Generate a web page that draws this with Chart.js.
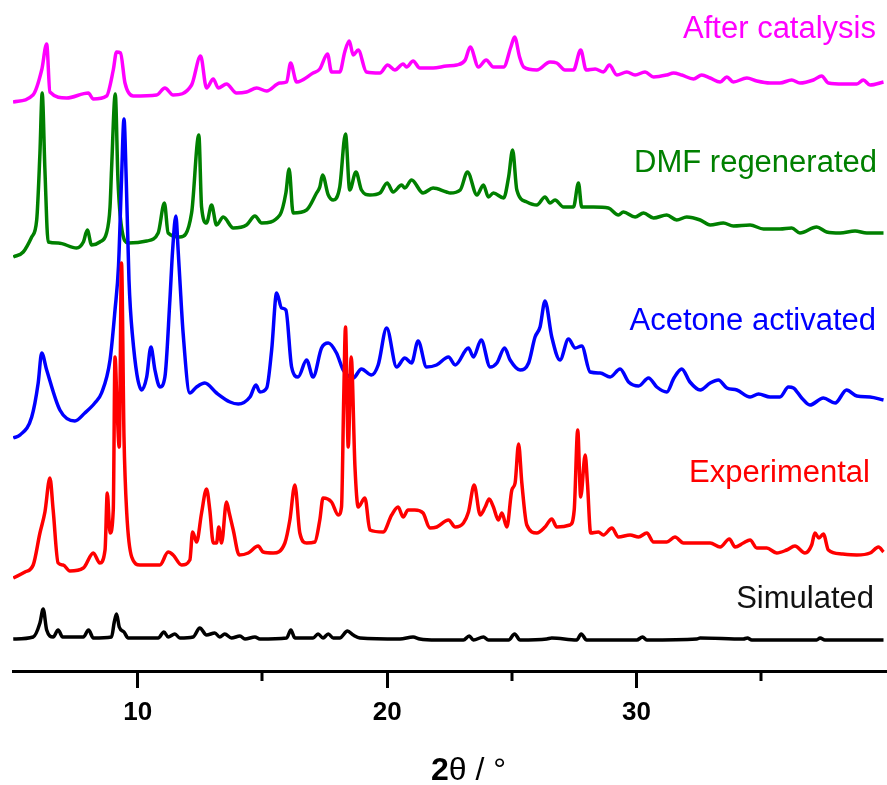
<!DOCTYPE html>
<html>
<head>
<meta charset="utf-8">
<script src="https://cdn.jsdelivr.net/npm/chart.js@4.4.1/dist/chart.umd.min.js"></script>
<style>
  html, body { margin: 0; padding: 0; background: #fff; }
  #wrap { width: 887px; height: 785px; }
</style>
</head>
<body>
<div id="wrap"><canvas id="xrd" width="887" height="785"></canvas></div>
<script>
// patrones de difracción: [2θ, intensidad con desplazamiento]
const simulated = [
  [5.01, 32], [5.81, 34], [6.08, 48], [6.21, 62], [6.35, 41], [6.61, 34], [6.81, 41], [6.99, 34],
  [7.82, 34], [8.03, 41], [8.22, 33], [8.95, 34], [9.06, 49], [9.15, 57], [9.26, 44], [9.45, 39],
  [9.62, 33], [10.82, 33], [11.05, 39], [11.22, 34], [11.49, 37], [11.69, 33], [12.22, 34], [12.49, 43],
  [12.76, 36], [13.09, 38], [13.29, 34], [13.49, 37], [13.76, 33], [14.10, 35], [14.30, 32], [14.70, 34],
  [14.90, 32], [15.97, 33], [16.14, 41], [16.30, 33], [17.03, 33], [17.23, 37], [17.43, 33], [17.64, 37],
  [17.84, 33], [18.10, 33], [18.41, 40], [18.64, 36], [18.91, 33], [20.51, 32], [21.04, 34], [21.31, 32],
  [21.99, 31], [23.06, 31], [23.29, 35], [23.46, 31], [23.86, 34], [24.06, 31], [24.87, 31], [25.11, 37],
  [25.33, 31], [26.40, 32], [26.60, 33], [27.60, 31], [27.78, 37], [28.00, 31], [30.01, 31], [30.24, 34],
  [30.41, 31], [32.41, 32], [32.55, 33], [34.28, 32], [34.44, 33], [34.62, 31], [37.22, 31], [37.36, 33],
  [37.55, 31], [39.90, 31]
];

const experimental = [
  [5.01, 93], [5.48, 99], [5.81, 106], [6.08, 138], [6.28, 159], [6.48, 193], [6.61, 161], [6.81, 108],
  [7.01, 106], [7.28, 100], [7.82, 103], [8.22, 118], [8.48, 108], [8.69, 121], [8.78, 178], [8.89, 138],
  [9.02, 161], [9.09, 314], [9.18, 258], [9.26, 224], [9.35, 408], [9.45, 234], [9.56, 158], [9.76, 114],
  [10.09, 106], [10.89, 106], [11.22, 119], [11.42, 116], [11.76, 106], [12.09, 111], [12.20, 139], [12.36, 129],
  [12.56, 158], [12.76, 182], [12.89, 161], [13.03, 128], [13.16, 128], [13.25, 144], [13.36, 128], [13.56, 169],
  [13.67, 158], [13.83, 141], [14.07, 116], [14.43, 118], [14.83, 125], [15.03, 119], [15.43, 118], [15.90, 128],
  [16.10, 151], [16.30, 186], [16.50, 138], [16.77, 128], [17.10, 129], [17.30, 151], [17.43, 173], [17.77, 169],
  [18.04, 156], [18.17, 164], [18.26, 274], [18.33, 344], [18.44, 224], [18.56, 314], [18.71, 204], [18.84, 164],
  [19.11, 173], [19.31, 141], [19.84, 139], [20.18, 156], [20.44, 164], [20.64, 154], [20.84, 161], [21.11, 161],
  [21.44, 158], [21.71, 143], [21.99, 144], [22.46, 151], [22.73, 144], [23.06, 148], [23.26, 159], [23.49, 186],
  [23.73, 156], [23.93, 164], [24.09, 172], [24.26, 164], [24.46, 151], [24.60, 158], [24.80, 144], [25.00, 181],
  [25.13, 188], [25.27, 227], [25.40, 188], [25.60, 146], [26.00, 138], [26.33, 144], [26.60, 152], [26.80, 144],
  [27.33, 146], [27.50, 161], [27.64, 241], [27.76, 174], [27.94, 216], [28.03, 188], [28.16, 138], [28.47, 139],
  [28.67, 136], [29.01, 143], [29.27, 134], [29.74, 136], [30.08, 134], [30.41, 138], [30.68, 129], [31.21, 129],
  [31.54, 134], [31.88, 128], [32.41, 128], [32.95, 128], [33.35, 124], [33.72, 132], [33.95, 124], [34.28, 128],
  [34.55, 131], [34.82, 123], [35.22, 123], [35.62, 118], [36.02, 121], [36.35, 125], [36.75, 118], [37.02, 126],
  [37.15, 138], [37.31, 133], [37.49, 137], [37.69, 121], [38.22, 117], [38.83, 116], [39.36, 118], [39.70, 124],
  [39.90, 119]
];

const acetoneActivated = [
  [5.01, 233], [5.28, 236], [5.75, 254], [6.01, 288], [6.15, 318], [6.35, 301], [6.88, 261], [7.48, 250],
  [7.88, 258], [8.28, 268], [8.55, 278], [8.89, 311], [9.09, 361], [9.23, 405], [9.35, 491], [9.45, 552],
  [9.54, 491], [9.65, 391], [9.78, 338], [10.16, 281], [10.36, 294], [10.53, 324], [10.69, 301], [10.89, 284],
  [11.09, 294], [11.29, 371], [11.40, 421], [11.53, 455], [11.62, 421], [11.69, 391], [11.82, 338], [12.09, 278],
  [12.36, 284], [12.69, 288], [13.16, 278], [13.70, 269], [14.03, 267], [14.50, 274], [14.74, 286], [14.90, 279],
  [15.17, 283], [15.37, 321], [15.57, 378], [15.77, 363], [15.94, 361], [16.17, 304], [16.43, 294], [16.77, 311],
  [17.03, 294], [17.37, 323], [17.64, 328], [17.97, 318], [18.24, 301], [18.64, 293], [18.97, 302], [19.37, 296],
  [19.64, 306], [19.98, 343], [20.38, 304], [20.71, 313], [20.98, 308], [21.24, 330], [21.58, 304], [21.98, 306],
  [22.46, 314], [22.73, 306], [23.26, 323], [23.46, 314], [23.77, 331], [24.13, 304], [24.40, 308], [24.71, 323],
  [24.93, 311], [25.33, 301], [25.67, 308], [25.93, 334], [26.13, 344], [26.33, 370], [26.60, 334], [26.93, 311],
  [27.27, 332], [27.54, 323], [27.80, 325], [28.14, 299], [28.54, 298], [28.94, 294], [29.34, 302], [29.68, 289],
  [30.08, 285], [30.48, 293], [30.81, 284], [31.21, 279], [31.50, 293], [31.81, 302], [32.14, 289], [32.55, 281],
  [32.95, 288], [33.28, 291], [33.62, 283], [34.02, 281], [34.55, 274], [34.89, 277], [35.35, 274], [35.75, 274],
  [36.09, 284], [36.29, 283], [36.62, 273], [36.95, 266], [37.49, 273], [37.96, 268], [38.42, 281], [38.83, 275],
  [39.36, 274], [39.90, 271]
];

const dmfRegenerated = [
  [5.01, 414], [5.41, 419], [5.75, 434], [5.95, 451], [6.08, 518], [6.17, 578], [6.28, 501], [6.41, 429],
  [6.81, 428], [7.55, 423], [7.82, 429], [7.98, 441], [8.15, 426], [8.48, 429], [8.75, 438], [8.89, 464],
  [8.95, 501], [9.10, 577], [9.21, 490], [9.35, 444], [9.62, 428], [10.36, 430], [10.82, 438], [11.07, 468],
  [11.22, 438], [11.69, 434], [12.16, 458], [12.45, 536], [12.56, 464], [12.76, 448], [12.96, 466], [13.16, 446],
  [13.43, 454], [13.83, 443], [14.36, 446], [14.70, 455], [14.97, 448], [15.70, 456], [15.94, 478], [16.07, 502],
  [16.23, 458], [16.77, 461], [17.17, 478], [17.30, 484], [17.41, 496], [17.64, 476], [17.84, 471], [18.10, 484],
  [18.33, 537], [18.50, 481], [18.75, 499], [18.97, 481], [19.31, 476], [19.71, 478], [20.00, 488], [20.24, 479],
  [20.58, 486], [20.71, 483], [20.98, 491], [21.44, 478], [21.84, 483], [22.38, 479], [22.53, 478], [22.93, 481],
  [23.22, 499], [23.60, 476], [23.86, 486], [24.06, 474], [24.26, 478], [24.67, 473], [24.87, 494], [25.03, 521],
  [25.20, 481], [25.60, 469], [26.00, 466], [26.33, 474], [26.53, 468], [26.73, 471], [27.07, 464], [27.47, 464],
  [27.67, 488], [27.80, 464], [28.27, 464], [28.87, 463], [29.27, 456], [29.47, 459], [29.94, 454], [30.28, 458],
  [30.68, 453], [31.21, 456], [31.61, 451], [32.01, 454], [32.55, 451], [32.95, 446], [33.48, 448], [33.88, 445],
  [34.55, 446], [35.09, 442], [35.75, 442], [36.22, 443], [36.55, 438], [37.22, 444], [37.62, 439], [38.16, 438],
  [38.76, 440], [39.23, 438], [39.90, 438]
];

const afterCatalysis = [
  [5.00, 569], [5.80, 576], [6.15, 601], [6.35, 627], [6.48, 579], [7.15, 573], [8.02, 578], [8.22, 572],
  [8.75, 575], [9.02, 601], [9.15, 619], [9.31, 618], [9.49, 588], [9.82, 575], [10.76, 576], [11.09, 583],
  [11.42, 576], [12.16, 586], [12.52, 615], [12.76, 583], [13.03, 592], [13.23, 583], [13.56, 587], [13.96, 578],
  [14.36, 579], [14.77, 583], [15.17, 580], [15.70, 588], [15.97, 589], [16.13, 608], [16.37, 589], [17.03, 598],
  [17.30, 602], [17.61, 617], [17.77, 599], [18.10, 599], [18.30, 619], [18.48, 630], [18.64, 616], [18.84, 621],
  [19.17, 599], [19.71, 598], [20.02, 606], [20.31, 601], [20.64, 607], [20.78, 604], [21.04, 610], [21.31, 603],
  [21.84, 603], [22.38, 605], [22.79, 606], [23.13, 611], [23.33, 624], [23.66, 604], [23.97, 611], [24.26, 604],
  [24.67, 604], [24.96, 624], [25.11, 634], [25.31, 614], [25.47, 604], [26.00, 601], [26.53, 609], [26.80, 608],
  [27.13, 601], [27.47, 601], [27.76, 621], [27.98, 601], [28.34, 602], [28.67, 599], [28.91, 606], [29.21, 596],
  [29.61, 599], [29.94, 596], [30.34, 599], [30.68, 594], [31.21, 596], [31.48, 598], [31.81, 596], [32.28, 592],
  [32.61, 596], [32.95, 593], [33.35, 589], [33.62, 594], [33.88, 589], [34.42, 593], [34.82, 590], [35.35, 588],
  [35.75, 588], [36.22, 591], [36.55, 588], [37.09, 591], [37.42, 595], [37.69, 588], [38.29, 587], [38.83, 587],
  [39.09, 591], [39.36, 586], [39.90, 589]
];

const seriesNames = ["Simulated", "Experimental", "Acetone activated", "DMF regenerated", "After catalysis"];
const seriesData = [simulated, experimental, acetoneActivated, dmfRegenerated, afterCatalysis];
const xTickLabels = [10, 20, 30];
const xMinorTicks = [15, 25, 35];

// estilo
const seriesColors = ["#000000", "#ff0000", "#0000ff", "#008000", "#ff00ff"];
const labelBaselines = [608, 482, 330, 172, 38];
const labelRight = [874, 870, 876, 877, 876];

const seriesLabels = {
  id: "seriesLabels",
  afterDraw(chart) {
    const ctx = chart.ctx;
    ctx.save();
    ctx.font = "31px 'Liberation Sans', Arial, sans-serif";
    ctx.textAlign = "right";
    ctx.textBaseline = "alphabetic";
    seriesNames.forEach((name, i) => {
      ctx.fillStyle = i === 0 ? "#111" : seriesColors[i];
      ctx.fillText(name, labelRight[i], labelBaselines[i]);
    });
    ctx.restore();
  },
};

// marcas menores y título del eje con "2" en negrita
const axisExtras = {
  id: "axisExtras",
  afterDraw(chart) {
    const ctx = chart.ctx;
    const x = chart.scales.x;
    const yAxis = chart.chartArea.bottom;
    ctx.save();
    ctx.strokeStyle = "#000";
    ctx.lineWidth = 3;
    xMinorTicks.forEach((v) => {
      const px = Math.round(x.getPixelForValue(v));
      ctx.beginPath();
      ctx.moveTo(px, yAxis);
      ctx.lineTo(px, yAxis + 10);
      ctx.stroke();
    });
    ctx.fillStyle = "#000";
    ctx.textBaseline = "alphabetic";
    ctx.textAlign = "left";
    ctx.font = "bold 32px 'Liberation Sans', Arial, sans-serif";
    const startX = 431;
    ctx.fillText("2", startX, 780);
    const w = ctx.measureText("2").width;
    ctx.font = "32px 'Liberation Sans', Arial, sans-serif";
    ctx.fillText("θ / °", startX + w, 780);
    ctx.restore();
  },
};

new Chart(document.getElementById("xrd"), {
  type: "line",
  data: {
    datasets: seriesData.map((pts, i) => ({
      label: seriesNames[i],
      data: pts.map((p) => ({ x: p[0], y: p[1] })),
      borderColor: seriesColors[i],
      borderWidth: 3.5,
      pointRadius: 0,
      cubicInterpolationMode: "monotone",
      fill: false,
    })),
  },
  options: {
    responsive: false,
    maintainAspectRatio: false,
    animation: false,
    layout: { padding: { left: 13, right: 1, top: 0, bottom: 0 } },
    plugins: {
      legend: { display: false },
      tooltip: { enabled: false },
    },
    scales: {
      x: {
        type: "linear",
        min: 5,
        max: 40,
        afterFit: (scale) => {
          scale.height = 114;
          scale.paddingLeft = 0;
          scale.paddingRight = 0;
        },
        border: { display: true, color: "#000", width: 3 },
        grid: {
          drawOnChartArea: false,
          drawTicks: true,
          tickLength: 17,
          tickWidth: 3,
          tickColor: (c) => (c.tick && xTickLabels.includes(c.tick.value) ? "#000" : "rgba(0,0,0,0)"),
        },
        ticks: {
          stepSize: 5,
          autoSkip: false,
          maxRotation: 0,
          padding: 9,
          color: "#000",
          font: { family: "'Liberation Sans', Arial, sans-serif", size: 26, weight: "bold" },
          callback: (v) => (xTickLabels.includes(v) ? String(v) : ""),
        },
      },
      y: {
        display: false,
        min: 0,
        max: 671,
      },
    },
  },
  plugins: [seriesLabels, axisExtras],
});
</script>
</body>
</html>
